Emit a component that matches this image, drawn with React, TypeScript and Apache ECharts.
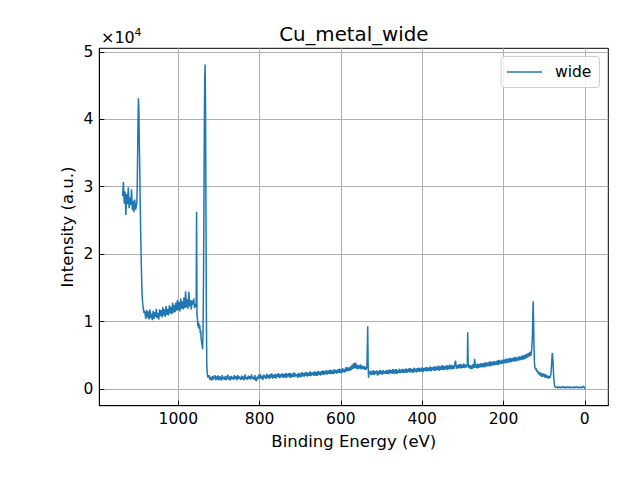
import React, { useEffect, useRef } from "react";
import * as echarts from "echarts";

const TITLE = "Cu_metal_wide";
const X_LABEL = "Binding Energy (eV)";
const Y_LABEL = "Intensity (a.u.)";
const SERIES_NAME = "wide";
const OFFSET_TEXT = "×10";
const OFFSET_EXP = "4";
const X_TICKS = [1000, 800, 600, 400, 200, 0];
const Y_TICKS = [0, 10000, 20000, 30000, 40000, 50000];
const X_RANGE = [-57.8, 1194.3];
const Y_RANGE = [-2476, 50519];

// Each block: first binding energy (eV), step (eV, descending), intensities
const augerNoise = [28600, 30700, 27500, 29300, 25800, 28900, 27400, 29900, 26800, 28400, 27300, 29600, 26500, 27900, 26200, 28100, 26600, 27200];
const augerPeak = [27500, 30000, 35000, 40000, 43100, 41500, 37000, 33500, 29000, 25000, 21500, 18500, 16000, 14000, 13000, 12400, 12000, 11300, 11600];
const plateau = [
  11300, 10400, 11700, 10600, 11500, 10300, 11800, 10500, 11200, 10200,
  11600, 10400, 11400, 10700, 11900, 10500, 11300, 10300, 11800, 10800,
  11700, 10600, 12100, 10900, 11800, 10700, 12300, 11000, 11900, 10900,
  12400, 11200, 12200, 11100, 12800, 11300, 12500, 11400, 12800, 11600,
  13200, 11700, 12900, 11500, 13400, 11900, 13000, 11800, 13600, 12000,
  14500, 12100, 13300, 11900, 14400, 12300, 13200, 11800, 13100, 12500,
  13400, 12000, 12600,
];
const cu2p = [
  12600, 12200, 26300, 11000, 10500, 9300, 9900, 9000, 9700, 8900,
  9400, 8300, 8700, 7600, 7100, 6700, 6300, 5900, 9000, 16000,
  26000, 38000, 46000, 48100, 42000, 28000, 12000, 4000, 2400, 2000,
  1700, 1900,
];
const baselineHigh = [
  2000, 1350, 1800, 1250, 1950, 1400, 1700, 2050, 1300, 1850,
  1400, 2000, 1300, 1900, 1550, 1250, 2050, 1450, 1800, 1350,
  1950, 1300, 1750, 2100, 1400, 1850, 1250, 1950, 1500, 1800,
  1350, 2050, 1500, 1900, 1300, 2100, 1450, 1850, 1600, 1350,
  2000, 1450, 1850, 1300, 2150, 1550, 1750, 1350, 2000, 1500,
  1900, 1400, 2150, 1550, 1800, 1350, 2050, 1500, 1150, 1850,
  1450, 2100, 1600, 2200, 1500, 1950, 1350, 2150, 1650, 2000,
  1500, 2250, 1650, 2050, 1450, 2200, 1700, 2300, 1550, 2100,
  1650, 2250, 1550, 2150, 1800, 2350, 1600, 2200, 1700, 2100,
  2300, 1650, 2200, 1750, 2400, 1600, 2250, 1850, 2350, 1700,
  2350, 1700, 2250, 1800, 2450, 1750, 2300, 1900, 2200, 1650,
  2400, 1800, 2300, 1750, 2500, 1900, 2350, 1850, 2450, 1950,
  2500, 1850, 2400, 1950, 2600, 1900, 2450, 2050, 2550, 1950,
  2600, 2000, 2500, 1950, 2700, 2100, 2550, 2000, 2650, 2150,
  2750, 2100, 2650, 2200, 2800, 2150, 2700, 2250, 2850, 2200,
  2850, 2250, 2750, 2200, 2950, 2350, 2800, 2300, 2900, 2400,
  3000, 2400, 2900, 2350, 3100, 2500, 2950, 2450, 3200, 2600,
  3250, 2650, 3150, 2700, 3400, 2850, 3600, 3000, 3850, 3100,
  3900, 3000, 3600, 2900, 3500, 3050, 3650, 2900, 3450, 3000,
  3400, 2850, 3300, 2900, 3250,
];
const o1s = [3300, 9300, 3500, 1650, 2500, 2300];
const baselineMid = [
  2700, 2050, 2600, 2150, 2800, 2100, 2650, 2250, 2750, 2000,
  2650, 2150, 2850, 2250, 2700, 2100, 2800, 2300, 2650, 2200,
  2850, 2250, 2750, 2200, 2900, 2350, 2800, 2250, 2950, 2300,
  2850, 2300, 2950, 2250, 2800, 2400, 3000, 2350, 2850, 2450,
  3000, 2350, 2900, 2450, 3050, 2400, 2950, 2500, 3100, 2450,
  3050, 2500, 2950, 2400, 3150, 2550, 3000, 2450, 3100, 2600,
  3150, 2550, 3050, 2600, 3250, 2500, 3100, 2700, 3200, 2600,
  3250, 2650, 3150, 2700, 3350, 2600, 3200, 2800, 3300, 2700,
  3350, 2750, 3300, 2800, 3450, 2700, 3350, 2850, 3500, 2800,
  3450, 2850, 3400, 2900, 3550, 2800, 3450, 2950, 3600, 2900,
  3550, 2950, 3500, 3000, 3650, 4200, 3000, 3550, 3050, 3650,
  3100, 3700, 3050, 3600, 3150, 3750, 3100, 3650, 3200, 3550,
];
const c1s = [3400, 8400, 3800, 3100, 3300];
const valenceRise = [
  3550, 2950, 3500, 3000, 3700, 3100, 4480, 3150, 3650, 3050,
  3750, 3150, 3700, 3200, 3850, 3250, 3800, 3200, 3900, 3300,
  3950, 3350, 3900, 3400, 4050, 3350, 4100, 3450, 4000, 3500,
  4150, 3550, 4100, 3600, 4250, 3550, 4300, 3700, 4200, 3750,
  4350, 3750, 4300, 3800, 4500, 3850, 4450, 3900, 4550, 3950,
  4600, 4000, 4550, 4100, 4700, 4050, 4750, 4150, 4650, 4200,
  4850, 4250, 4800, 4300, 4950, 4350, 5000, 4400, 5100, 4500,
  5200, 4650, 5300, 4800, 5500, 4900, 5600,
];
const cu3s = [5600, 7500, 10500, 13000, 10000, 6500, 4000, 3300, 3100, 2900, 3100, 2700, 2600];
const lowShelf = [2700, 2200, 2550, 2000, 2400, 1800, 2300, 1850, 2250, 1700, 2150, 1650, 2000, 1550, 1900, 1650];
const cu3p = [1800, 2000, 2500, 3300, 4500, 5330, 4800, 3700, 2400, 1300, 700, 400, 320, 250, 300];
const tail = [
  300, 150, 350, 180, 320, 120, 330, 200, 380, 160,
  300, 140, 340, 190, 310, 150, 360, 210, 160, 300,
  200, 330, 140, 280, 360, 170, 310, 160, 290, 200,
  330, 150, 280, 450, 200, 20,
];

const blocks: { start: number; step: number; values: number[] }[] = [
  { start: 1137, step: 2, values: augerNoise },
  { start: 1102, step: 1, values: augerPeak },
  { start: 1082, step: 2, values: plateau },
  { start: 957, step: 1, values: cu2p },
  { start: 924, step: 2, values: baselineHigh },
  { start: 535, step: 1, values: o1s },
  { start: 528, step: 2, values: baselineMid },
  { start: 289, step: 1, values: c1s },
  { start: 283, step: 2, values: valenceRise },
  { start: 130, step: 1, values: cu3s },
  { start: 116, step: 2, values: lowShelf },
  { start: 85, step: 1, values: cu3p },
  { start: 69, step: 2, values: tail },
];

const FONT = "DejaVu Sans";
const TICK_FS = 15.5;
const LABEL_FS = 16.5;
const TITLE_FS = 19.8;

export default function App() {
  const ref = useRef<HTMLDivElement>(null);
  useEffect(() => {
    if (!ref.current) return;
    const chart = echarts.init(ref.current, null, { renderer: "svg" });
    const points: [number, number][] = [];
    blocks.forEach((b) => b.values.forEach((v, i) => points.push([b.start - i * b.step, v])));

    chart.setOption({
      animation: false,
      backgroundColor: "#ffffff",
      grid: {
        left: 99.3,
        right: 31.7,
        top: 48.3,
        bottom: 74.3,
        show: true,
        borderColor: "#000000",
        borderWidth: 1,
        backgroundColor: "transparent",
        containLabel: false,
        outerBoundsMode: "none",
      },
      xAxis: {
        type: "value",
        inverse: true,
        min: X_RANGE[0],
        max: X_RANGE[1],
        minInterval: 200,
        maxInterval: 200,
        name: X_LABEL,
        nameLocation: "middle",
        nameGap: 27,
        nameMoveOverlap: false,
        nameTextStyle: { fontFamily: FONT, fontSize: LABEL_FS, color: "#000" },
        axisLine: { show: true, onZero: false, lineStyle: { color: "#000", width: 1 } },
        axisTick: { show: true, inside: true, length: 5, lineStyle: { color: "#000", width: 1 } },
        axisLabel: {
          show: true,
          margin: 5,
          fontFamily: FONT,
          fontSize: TICK_FS,
          color: "#000",
          showMinLabel: false,
          showMaxLabel: false,
          formatter: (v: number) => (X_TICKS.includes(v) ? String(v) : ""),
        },
        splitLine: { show: true, showMinLine: false, showMaxLine: false, lineStyle: { color: "#b0b0b0", width: 1 } },
      },
      yAxis: {
        type: "value",
        min: Y_RANGE[0],
        max: Y_RANGE[1],
        minInterval: 10000,
        maxInterval: 10000,
        name: Y_LABEL,
        nameLocation: "middle",
        nameGap: 23,
        nameRotate: 90,
        nameMoveOverlap: false,
        nameTextStyle: { fontFamily: FONT, fontSize: LABEL_FS, color: "#000" },
        axisLine: { show: true, onZero: false, lineStyle: { color: "#000", width: 1 } },
        axisTick: { show: true, inside: true, length: 5, lineStyle: { color: "#000", width: 1 } },
        axisLabel: {
          show: true,
          margin: 6,
          fontFamily: FONT,
          fontSize: TICK_FS,
          color: "#000",
          showMinLabel: false,
          showMaxLabel: false,
          formatter: (v: number) => (Y_TICKS.includes(v) ? String(v / 10000) : ""),
        },
        splitLine: { show: true, showMinLine: false, showMaxLine: false, lineStyle: { color: "#b0b0b0", width: 1 } },
      },
      legend: {
        show: true,
        data: [{ name: SERIES_NAME, icon: "rect" }],
        left: 501,
        top: 56.5,
        orient: "horizontal",
        padding: [7.5, 8, 7.5, 6],
        itemWidth: 35,
        itemHeight: 1.6,
        backgroundColor: "rgba(255,255,255,0.8)",
        borderColor: "#cccccc",
        borderWidth: 1,
        borderRadius: 3,
        textStyle: { fontFamily: FONT, fontSize: TICK_FS, color: "#000", padding: [0, 0, 0, 8] },
      },
      graphic: [
        {
          type: "text",
          x: 353.8,
          y: 34,
          style: {
            text: TITLE,
            fontFamily: FONT,
            fontSize: TITLE_FS,
            fill: "#000",
            textAlign: "center",
            textVerticalAlign: "middle",
          },
        },
        {
          type: "text",
          x: 101,
          y: 37.5,
          style: {
            text: OFFSET_TEXT,
            fontFamily: FONT,
            fontSize: 16,
            fill: "#000",
            textVerticalAlign: "middle",
          },
        },
        {
          type: "text",
          x: 134.5,
          y: 32.5,
          style: {
            text: OFFSET_EXP,
            fontFamily: FONT,
            fontSize: 11,
            fill: "#000",
            textVerticalAlign: "middle",
          },
        },
      ],
      series: [
        {
          type: "line",
          name: SERIES_NAME,
          data: points,
          showSymbol: false,
          symbol: "none",
          lineStyle: { color: "#1f77b4", width: 1.5 },
          itemStyle: { color: "#1f77b4" },
          emphasis: { disabled: true },
        },
      ],
    });
    return () => chart.dispose();
  }, []);
  return (
    <div
      ref={ref}
      style={{ position: "fixed", left: 0, top: 0, width: 640, height: 480, background: "#fff" }}
    />
  );
}
